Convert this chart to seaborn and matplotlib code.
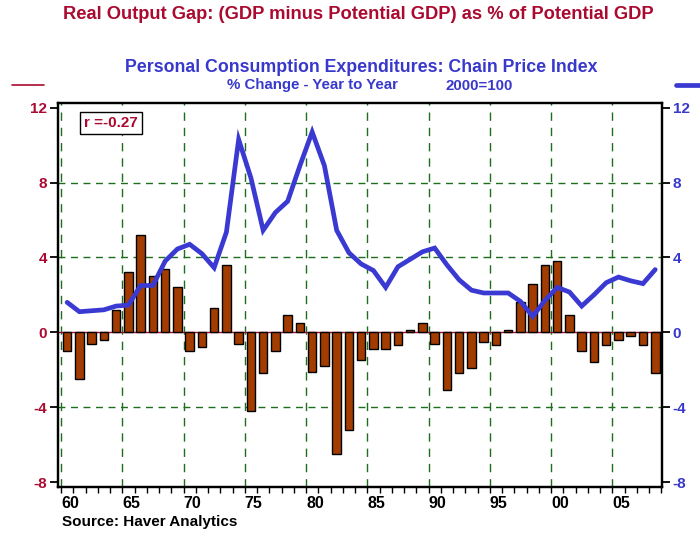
import numpy as np
import pandas as pd
import matplotlib
matplotlib.use("Agg")
import matplotlib.pyplot as plt
from matplotlib.lines import Line2D
import seaborn as sns

# ---- data ----
years = list(range(1960, 2009))
output_gap = [-1.0, -2.5, -0.6, -0.4, 1.2, 3.2, 5.2, 3.0, 3.4, 2.4,
              -1.0, -0.8, 1.3, 3.6, -0.6, -4.2, -2.2, -1.0, 0.9, 0.5,
              -2.1, -1.8, -6.5, -5.2, -1.5, -0.9, -0.9, -0.7, 0.1, 0.5,
              -0.6, -3.1, -2.2, -1.9, -0.5, -0.7, 0.1, 1.6, 2.6, 3.6,
              3.8, 0.9, -1.0, -1.6, -0.7, -0.4, -0.2, -0.7, -2.2]
pce_inflation = [1.6, 1.1, 1.15, 1.2, 1.4, 1.45, 2.5, 2.5, 3.8, 4.45,
                 4.7, 4.2, 3.45, 5.35, 10.3, 8.25, 5.45, 6.4, 7.0, 8.9,
                 10.7, 8.9, 5.45, 4.25, 3.65, 3.3, 2.4, 3.5, 3.9, 4.3,
                 4.5, 3.6, 2.8, 2.25, 2.1, 2.1, 2.1, 1.65, 0.85, 1.7,
                 2.4, 2.15, 1.4, 2.0, 2.65, 2.95, 2.75, 2.6, 3.35]
y_ticks = [-8, -4, 0, 4, 8, 12]
h_grid = [-4, 4, 8]
x_major = list(range(1960, 2006, 5))
x_labels = ["60", "65", "70", "75", "80", "85", "90", "95", "00", "05"]
x_minor = list(range(1960, 2010))

CRIMSON = "#AA0A30"
BLUE = "#3838CC"
LINE_BLUE = "#3A3AD2"
BAR = "#A33C00"
GREEN = "#1E6E1E"

sns.set_style("white")
plt.rcParams["font.family"] = ["Liberation Sans", "DejaVu Sans"]
plt.rcParams["font.weight"] = "bold"

df = pd.DataFrame({"x": [y + 0.5 for y in years], "gap": output_gap, "pce": pce_inflation})

fig = plt.figure(figsize=(7.0, 5.33), dpi=100)
ax = fig.add_axes([0.0833, 0.0869, 0.862, 0.7193])
ax.set_axisbelow(True)

sns.barplot(data=df, x="x", y="gap", native_scale=True, width=0.7, color=BAR,
            saturation=1, edgecolor="black", linewidth=1.0, errorbar=None, ax=ax, zorder=3)

for h in h_grid:
    ax.axhline(h, color=GREEN, lw=1.0, ls=(0, (5, 4)), zorder=1)
for xv in x_major:
    ax.axvline(xv, color=GREEN, lw=1.0, ls=(0, (6, 5)), zorder=1)
ax.axhline(0, color=CRIMSON, lw=1.0, zorder=2)

ylim = (-8.25, 12.235)
ax.set_ylim(*ylim)
ax.set_xlim(1959.78, 2009.03)
ax.set_yticks(y_ticks)
ax.set_yticklabels([str(v) for v in y_ticks])
ax.set_xticks(x_major)
ax.set_xticklabels(x_labels)
ax.set_xticks(x_minor, minor=True)
ax.set_xlabel("")
ax.set_ylabel("")
ax.tick_params(axis="y", direction="out", length=6, width=1.3, colors="black",
               labelcolor=CRIMSON, labelsize=11, pad=2, left=True)
ax.tick_params(axis="x", which="both", direction="out", length=4, width=1.0,
               colors="black", labelsize=11.5, pad=3, bottom=True)
for lbl in ax.get_xticklabels():
    lbl.set_horizontalalignment("left")
    lbl.set_fontweight("bold")
for lbl in ax.get_yticklabels():
    lbl.set_fontweight("bold")
for sp in ax.spines.values():
    sp.set_color("black")
    sp.set_linewidth(1.6)

ax2 = ax.twinx()
sns.lineplot(data=df, x="x", y="pce", color=LINE_BLUE, linewidth=3.4, ax=ax2,
             solid_joinstyle="miter")
ax2.set_ylim(*ylim)
ax2.set_xlim(1959.78, 2009.03)
ax2.set_yticks(y_ticks)
ax2.set_yticklabels([str(v) for v in y_ticks])
ax2.set_ylabel("")
ax2.set_xlabel("")
ax2.tick_params(axis="y", direction="out", length=6, width=1.3, colors="black",
                labelcolor=BLUE, labelsize=11, pad=2, right=True)
for lbl in ax2.get_yticklabels():
    lbl.set_fontweight("bold")
for sp in ax2.spines.values():
    sp.set_color("black")
    sp.set_linewidth(1.6)

# correlation box
ax.text(0.0873, 0.9486, "r =-0.27", transform=ax.transAxes, ha="center", va="center",
        color=CRIMSON, fontsize=11, fontweight="bold", zorder=5,
        bbox=dict(boxstyle="square,pad=0.25", fc="white", ec="black", lw=1.0))

# titles
fig.text(358 / 700, 1 - 14.5 / 533, "Real Output Gap: (GDP minus Potential GDP) as % of Potential GDP",
         ha="center", va="center", color=CRIMSON, fontsize=13.2, fontweight="bold")
fig.text(361 / 700, 1 - 67.5 / 533, "Personal Consumption Expenditures: Chain Price Index",
         ha="center", va="center", color=BLUE, fontsize=12.8, fontweight="bold")
fig.text(227 / 700, 1 - 85.5 / 533, "% Change - Year to Year",
         ha="left", va="center", color=BLUE, fontsize=10.8, fontweight="bold")
fig.text(446 / 700, 1 - 85.5 / 533, "2000=100",
         ha="left", va="center", color=BLUE, fontsize=10.8, fontweight="bold")
fig.text(62 / 700, 1 - 522 / 533, "Source: Haver Analytics", ha="left", va="center",
         color="black", fontsize=11, fontweight="bold")

# legend swatches
fig.add_artist(Line2D([12 / 700, 44 / 700], [1 - 85 / 533] * 2, color=CRIMSON, lw=1.2,
                      transform=fig.transFigure))
fig.add_artist(Line2D([676 / 700, 700 / 700], [1 - 85 / 533] * 2, color=LINE_BLUE, lw=3.4,
                      transform=fig.transFigure))

fig.savefig("out.png", dpi=100)
